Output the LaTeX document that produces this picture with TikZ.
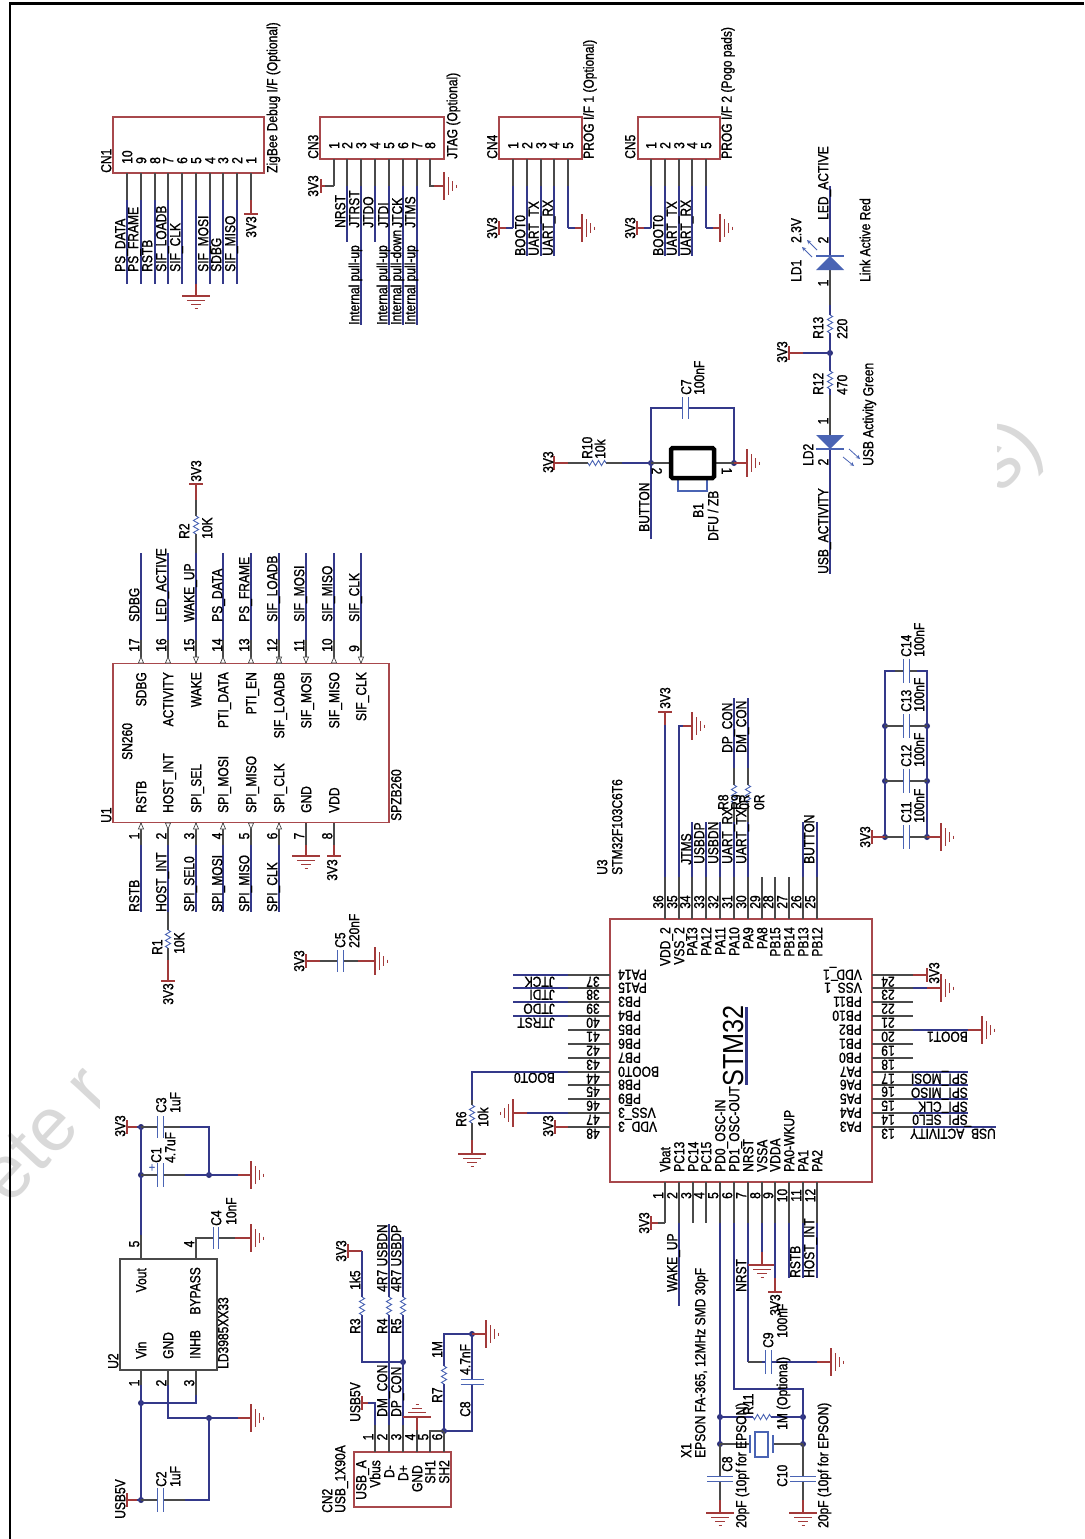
\documentclass[tikz,border=0pt]{standalone}
\usepackage{fontspec}
\setmainfont{Liberation Sans}[FakeStretch=0.83,FakeBold=1.1]
\newfontfamily\plainfont{Liberation Sans}[FakeStretch=0.87]
\newfontfamily\wmfont{Liberation Sans}
\definecolor{wireblue}{HTML}{34398A}
\definecolor{leadgrey}{HTML}{4A4A4A}
\definecolor{pwrred}{HTML}{A23A3A}
\definecolor{boxred}{HTML}{A8484C}
\definecolor{compblue}{HTML}{4A64B4}
\definecolor{dotblue}{HTML}{2B2F78}
\tikzset{
 wire/.style={draw=wireblue,line width=1.2pt},
 lead/.style={draw=leadgrey,line width=1.2pt},
 pwr/.style={draw=pwrred,line width=1.3pt},
 comp/.style={draw=compblue,line width=1.1pt},
 partbox/.style={draw=boxred,line width=1.2pt},
 jdot/.style={circle,fill=dotblue,inner sep=0pt,minimum size=6pt},
 txt/.style={inner sep=0pt,text height=10.4pt,text depth=0pt,font=\fontsize{14.5}{15}\selectfont},
 vtx/.style={txt,rotate=90},
 htx/.style={txt,rotate=180},
 rtx/.style={txt,rotate=-90},
 pinmark/.style={draw=leadgrey,fill=white,line width=.7pt},
}
\newcounter{tn}
\newcommand\Vb[3]{\stepcounter{tn}\node[vtx,anchor=west] (t\thetn) at (#1,#2) {#3};}
\newcommand\Vt[3]{\stepcounter{tn}\node[vtx,anchor=east] (t\thetn) at (#1,#2) {#3};}
\newcommand\Vc[3]{\stepcounter{tn}\node[vtx,anchor=center] (t\thetn) at (#1,#2) {#3};}
\newcommand\Hs[3]{\stepcounter{tn}\node[htx,anchor=west] (t\thetn) at (#1,#2) {#3};}
\newcommand\He[3]{\stepcounter{tn}\node[htx,anchor=east] (t\thetn) at (#1,#2) {#3};}
\newcommand\Hc[3]{\stepcounter{tn}\node[htx,anchor=center] (t\thetn) at (#1,#2) {#3};}
\newcommand\Rc[3]{\stepcounter{tn}\node[rtx,anchor=center] (t\thetn) at (#1,#2) {#3};}
% vertical pin: lead y1-y2, wire y2-y3
\newcommand\LV[4]{\draw[lead] (#1,#2) -- (#1,#3); \draw[wire] (#1,#3) -- (#1,#4);}
\newcommand\LH[4]{\draw[lead] (#2,#1) -- (#3,#1); \draw[wire] (#3,#1) -- (#4,#1);}
% resistors
\newcommand\RV[2]{\draw[white,line width=2pt] (#1,#2-9) -- (#1,#2+9);
 \draw[comp,line width=.9pt] (#1,#2-9) -- ++(2.6,1.5) -- ++(-5.2,3) -- ++(5.2,3) -- ++(-5.2,3) -- ++(5.2,3) -- ++(-5.2,3) -- ++(2.6,1.5);}
\newcommand\RH[2]{\draw[white,line width=2pt] (#1-9,#2) -- (#1+9,#2);
 \draw[comp,line width=.9pt] (#1-9,#2) -- ++(1.5,2.6) -- ++(3,-5.2) -- ++(3,5.2) -- ++(3,-5.2) -- ++(3,5.2) -- ++(3,-5.2) -- ++(1.5,2.6);}
% capacitors: \CV wire vertical, plates horizontal; \CH wire horizontal, plates vertical
\newcommand\CV[3]{\draw[white,line width=3pt] (#1,#2-2.7) -- (#1,#2+2.7);
 \draw[comp,line width=1.2pt] (#1-#3,#2-2.7) -- (#1+#3,#2-2.7) (#1-#3,#2+2.7) -- (#1+#3,#2+2.7);}
\newcommand\CH[3]{\draw[white,line width=3pt] (#1-2.7,#2) -- (#1+2.7,#2);
 \draw[comp,line width=1.2pt] (#1-2.7,#2-#3) -- (#1-2.7,#2+#3) (#1+2.7,#2-#3) -- (#1+2.7,#2+#3);}
% supply bars
\newcommand\BV[2]{\draw[pwr] (#1,#2-7) -- (#1,#2+7);}
\newcommand\BH[2]{\draw[pwr] (#1-7,#2) -- (#1+7,#2);}
% grounds
\newcommand\GR[2]{\draw[pwr] (#1,#2-14) -- (#1,#2+14) (#1+4.3,#2-9) -- (#1+4.3,#2+9) (#1+8.6,#2-5) -- (#1+8.6,#2+5) (#1+12.8,#2-1.5) -- (#1+12.8,#2+1.5);}
\newcommand\GL[2]{\draw[pwr] (#1,#2-14) -- (#1,#2+14) (#1-4.3,#2-9) -- (#1-4.3,#2+9) (#1-8.6,#2-5) -- (#1-8.6,#2+5) (#1-12.8,#2-1.5) -- (#1-12.8,#2+1.5);}
\newcommand\GD[2]{\draw[pwr] (#1-14,#2) -- (#1+14,#2) (#1-9,#2+4.3) -- (#1+9,#2+4.3) (#1-5,#2+8.6) -- (#1+5,#2+8.6) (#1-1.5,#2+12.8) -- (#1+1.5,#2+12.8);}
\newcommand\GU[2]{\draw[pwr] (#1-14,#2) -- (#1+14,#2) (#1-9,#2-4.3) -- (#1+9,#2-4.3) (#1-5,#2-8.6) -- (#1+5,#2-8.6) (#1-1.5,#2-12.8) -- (#1+1.5,#2-12.8);}
% pin mark triangle: x, base y, tip y
\newcommand\TR[3]{\draw[pinmark] (#1-2.6,#2) -- (#1,#3) -- (#1+2.6,#2) -- cycle;}
\begin{document}
\begin{tikzpicture}[x=1pt,y=-1pt]
\useasboundingbox (0,0) rectangle (1084,1539);
\fill[white] (0,0) rectangle (1084,1539);
% watermark fragments
\begin{scope}
\clip (0,1040) rectangle (99,1230);
\node[rotate=47,inner sep=0pt,text=black!15,font=\wmfont\fontsize{76}{80}\selectfont] (wm1) at (44,1134) {ete r};
\end{scope}
\begin{scope}
\clip (997,400) rectangle (1084,530);
\node[rotate=47,inner sep=0pt,text=black!15,font=\wmfont\fontsize{76}{80}\selectfont] (wm2) at (1009,458) {s)};
\end{scope}
% frame
\draw[black,line width=2.2pt] (9.8,1539) -- (9.8,3.5) -- (1084,3.5);

% ---------- junction dots
\foreach \n/\x/\y in {u2a/141/1127,u2b/141/1175,u2c/209/1175,u2d/141/1403,u2e/209/1418,u2f/141/1500,
 usbA/403/1362,usbB/444/1431,usbC/472/1334,xA/720/1417,xB/803/1417,xC/720/1444,xD/803/1444,
 btnA/651/463,btnB/734/463,ledA/830/353,
 deA/885/726,deB/927/726,deC/885/781,deD/927/781,deE/885/837,deF/927/837}
 {\node[jdot] (\n) at (\x,\y) {};}

% ---------- CN1
\draw[partbox] (113,117) rectangle (264,173);
\foreach \x in {127,141,155,168,182,210,223,237} {\LV{\x}{173}{200}{284}}
\LV{196}{173}{200}{284} \draw[pwr] (196,284) -- (196,296); \GD{196}{296}
\draw[lead] (251,173) -- (251,200); \draw[pwr] (251,200) -- (251,214); \BH{251}{214}
\foreach \x/\n in {127/10,141/9,155/8,168/7,182/6,196/5,210/4,223/3,237/2,251/1} {\Vb{\x}{164}{\n}}
\foreach \x/\s in {120/PS\_DATA,133/PS\_FRAME,147/RSTB,161/SIF\_LOADB,175/SIF\_CLK,203/SIF\_MOSI,216/SDBG,230/SIF\_MISO} {\Vb{\x}{272}{\s}}
\Vc{251}{227}{3V3}
\Vb{106}{173}{CN1}
\Vb{272}{173}{ZigBee Debug I/F (Optional)}

% ---------- CN3
\draw[partbox] (320,117) rectangle (444,159);
\draw[lead] (334,159) -- (334,186); \draw[lead] (334,186) -- (325,186); \draw[pwr] (325,186) -- (321,186); \BV{321}{186}
\LV{347}{159}{186}{242} \LV{361}{159}{186}{325} \LV{375}{159}{186}{242}
\LV{389}{159}{186}{325} \LV{403}{159}{186}{325} \LV{417}{159}{186}{325}
\draw[lead] (430,159) -- (430,186) -- (434,186); \draw[pwr] (434,186) -- (444,186); \GR{444}{186}
\foreach \x/\n in {334/1,347/2,361/3,375/4,389/5,403/6,417/7,430/8} {\Vb{\x}{149}{\n}}
\Vc{313}{186}{3V3}
\foreach \x/\s in {340/NRST,354/JTRST,368/JTDO,383/JTDI,397/JTCK,410/JTMS} {\Vb{\x}{228}{\s}}
\foreach \x/\s in {354/Internal pull-up,382/Internal pull-up,396/Internal pull-down,410/Internal pull-up} {\Vb{\x}{325}{\s}}
\Vb{313}{159}{CN3}
\Vb{452}{159}{JTAG (Optional)}

% ---------- CN4 / CN5
\draw[partbox] (499,117) rectangle (582,159);
\draw[partbox] (638,117) rectangle (720,159);
\foreach \o/\cn/\ttl in {0/CN4/{PROG I/F 1 (Optional)},138/CN5/{PROG I/F 2 (Pogo pads)}} {
 \begin{scope}[xshift=\o pt]
 \LV{513}{159}{186}{228} \draw[wire] (513,228) -- (506,228); \draw[pwr] (506,228) -- (499,228); \BV{499}{228}
 \LV{527}{159}{186}{256} \LV{541}{159}{186}{256} \LV{554}{159}{186}{256}
 \LV{568}{159}{186}{228} \draw[wire] (568,228) -- (575,228); \draw[pwr] (575,228) -- (582,228); \GR{582}{228}
 \foreach \x/\n in {513/1,527/2,541/3,554/4,568/5} {\Vb{\x}{149}{\n}}
 \Vc{492}{228}{3V3}
 \Vb{520}{256}{BOOT0} \Vb{533.5}{256}{UART\_TX} \Vb{547.5}{256}{UART\_RX}
 \Vb{492}{159}{\cn}
 \Vb{588.5}{159}{\ttl}
 \end{scope}}

% ---------- LEDs
\draw[wire] (830,186) -- (830,256);
\draw[lead] (830,270) -- (830,305); \draw[wire] (830,305) -- (830,353) -- (830,395);
\draw[lead] (830,395) -- (830,435);
\draw[wire] (830,449) -- (830,574);
\draw[pwr] (789,353) -- (803,353); \draw[wire] (803,353) -- (ledA.center); \BV{789}{353}
\RV{830}{324} \RV{830}{380}
\fill[compblue] (830,256) -- (844,270) -- (816,270) -- cycle;
\draw[comp,line width=1.1pt] (816,256) -- (844,256);
\fill[compblue] (830,449) -- (844,435) -- (816,435) -- cycle;
\draw[comp,line width=1.1pt] (816,449) -- (844,449);
\draw[comp,line width=.8pt,-stealth] (817,250) -- (807,240);
\draw[comp,line width=.8pt,-stealth] (812,257) -- (802,247);
\draw[comp,line width=.8pt,-stealth] (849,449) -- (860,459);
\draw[comp,line width=.8pt,-stealth] (843,457) -- (854,466);
\Vb{823}{220}{LED\_ACTIVE} \Vc{823}{240}{2} \Vc{823}{283}{1}
\Vb{796}{282}{LD1} \Vb{796}{243}{2.3V} \Vb{865}{282}{Link Active Red}
\Vb{818}{339}{R13} \Vb{842}{339}{220} \Vc{782}{352}{3V3}
\Vb{818}{395}{R12} \Vb{842}{395}{470}
\Vc{823}{421}{1} \Vc{823}{462}{2} \Vb{808}{466}{LD2}
\Vb{868}{466}{USB Activity Green}
\Vb{823}{574}{USB\_ACTIVITY}

% ---------- Button
\draw[pwr] (554,463) -- (568,463); \BV{554}{463}
\draw[lead] (568,463) -- (622,463); \draw[wire] (622,463) -- (btnA.center);
\RH{597}{463}
\draw[wire] (651,539) -- (btnA.center) -- (651,408) -- (734,408) -- (btnB.center);
\draw[lead] (btnA.center) -- (669,463) (716,463) -- (btnB.center);
\draw[pwr] (btnB.center) -- (747,463); \GR{747}{463}
\CH{685.5}{408}{11}
\draw[comp] (678,477) -- (678,491) -- (707,491) -- (707,477);
\draw[black,line width=4.5pt,rounded corners=1.5pt] (671,448) rectangle (714,478);
\Rc{657}{471}{2} \Rc{727}{471}{1}
\Vb{548}{473}{3V3} \Vb{587}{459}{R10} \Vb{600}{459}{10k}
\Vb{686}{395}{C7} \Vb{699}{395}{100nF}
\Vb{644}{532}{BUTTON} \Vb{698}{518}{B1} \Vb{713}{541}{DFU / ZB}

% ---------- U1
\draw[partbox] (113,663.5) rectangle (389,822.5);
\foreach \x/\n/\t/\s/\tx in {141/17/SDBG/SDBG/134,168/16/ACTIVITY/LED\_ACTIVE/161,196/15/WAKE/WAKE\_UP/189,223/14/PTI\_DATA/PS\_DATA/217,251/13/PTI\_EN/PS\_FRAME/244,279/12/SIF\_LOADB/SIF\_LOADB/272,306/11/SIF\_MOSI/SIF\_MOSI/299,334/10/SIF\_MISO/SIF\_MISO/327,361/9/SIF\_CLK/SIF\_CLK/354}
 {\LV{\x}{663}{640}{553}
  \Vb{\tx}{652}{\n} \Vt{\x}{672}{\t} \Vb{\tx}{622}{\s}}
\draw[lead] (196,553) -- (196,525); \draw[pwr] (196,502) -- (196,484); \draw[lead] (196,525) -- (196,500); \BH{196}{484}
\RV{196}{525}
\foreach \x in {141,223} {\LV{\x}{823}{845}{912}}
\foreach \x in {196,279} {\LV{\x}{823}{845}{912}}
\LV{251}{823}{845}{912}
\LV{168}{823}{845}{912} \draw[lead] (168,912) -- (168,960); \draw[pwr] (168,960) -- (168,981); \BH{168}{981}
\RV{168}{939}
\foreach \x/\b/\e in {141/663/657,168/663/657,223/663/657,251/663/657,334/663/657,141/829/823,196/829/823,223/829/823,279/829/823,196/657/663,306/657/663,361/657/663,168/823/829,251/823/829}
 {\TR{\x}{\b}{\e}}
\TR{279}{663}{657}\TR{279}{657}{663}\TR{279}{663}{657}
\draw[lead] (306,823) -- (306,845); \draw[pwr] (306,845) -- (306,856); \GD{306}{856}
\draw[lead] (334,823) -- (334,845); \draw[pwr] (334,845) -- (334,856); \BH{334}{856}
\foreach \x/\n/\s/\ix in {134/1/RSTB/141,161/2/HOST\_INT/168,189/3/SPI\_SEL/196,217/4/SPI\_MOSI/223,244/5/SPI\_MISO/251,272/6/SPI\_CLK/279,299/7/GND/306,327/8/VDD/334}
 {\Vc{\x}{836}{\n} \Vb{\ix}{813}{\s}}
\foreach \x/\s in {134/RSTB,161/HOST\_INT,189/SPI\_SEL0,217/SPI\_MOSI,244/SPI\_MISO,272/SPI\_CLK} {\Vb{\x}{912}{\s}}
\Vb{127}{760}{SN260} \Vb{396}{821}{SPZB260} \Vb{106}{823}{U1}
\Vc{196}{471}{3V3} \Vb{184}{539}{R2} \Vb{207}{539}{10K}
\Vb{157}{955}{R1} \Vb{179}{954}{10K} \Vc{168}{994}{3V3}
\Vc{332}{870}{3V3}
% C5
\draw[pwr] (306,961) -- (320,961); \draw[lead] (320,961) -- (358,961); \draw[pwr] (358,961) -- (375,961);
\BV{306}{961} \GR{375}{961} \CH{340.5}{961}{11}
\Vc{299}{961}{3V3} \Vb{340}{948}{C5} \Vb{354}{948}{220nF}

% ---------- U2
\draw[draw=leadgrey,line width=1.6pt] (120,1259) rectangle (217,1370);
\draw[lead] (141,1259) -- (141,1235); \draw[wire] (141,1235) -- (u2b.center) -- (u2a.center);
\draw[pwr] (127,1127) -- (137,1127); \draw[wire] (137,1127) -- (u2a.center); \BV{127}{1127}
\draw[lead] (u2a.center) -- (180,1127); \draw[wire] (180,1127) -- (209,1127) -- (u2c.center);
\CH{160.5}{1127}{11}
\draw[lead] (u2b.center) -- (185,1175); \draw[wire] (185,1175) -- (238,1175); \draw[pwr] (238,1175) -- (251,1175); \GR{251}{1175}
\CH{160.5}{1175}{12}
\draw[lead] (196,1259) -- (196,1238) -- (205,1238); \draw[lead] (225,1238) -- (235,1238); \draw[pwr] (235,1238) -- (251,1238); \GR{251}{1238}
\draw[lead] (196,1238) -- (235,1238); \CH{216}{1238}{11}
\draw[lead] (141,1370) -- (141,1385); \draw[wire] (141,1385) -- (u2d.center) -- (u2f.center);
\draw[lead] (196,1370) -- (196,1395); \draw[wire] (196,1395) -- (196,1403) -- (u2d.center);
\draw[lead] (168,1370) -- (168,1385); \draw[wire] (168,1385) -- (168,1418) -- (u2e.center) -- (238,1418); \draw[pwr] (238,1418) -- (251,1418); \GR{251}{1418}
\draw[wire] (u2e.center) -- (209,1500) -- (185,1500); \draw[lead] (185,1500) -- (u2f.center);
\draw[pwr] (127,1500) -- (137,1500); \draw[wire] (137,1500) -- (u2f.center); \BV{127}{1500}
\CH{160.5}{1500}{12}
\node[inner sep=0pt,text=compblue,font=\fontsize{13}{13}\selectfont] (plusC1) at (152,1168) {+};
\Vc{134}{1244}{5} \Vc{189}{1244}{4} \Vc{134}{1383}{1} \Vc{161}{1383}{2} \Vc{189}{1383}{3}
\Vt{141}{1268}{Vout} \Vt{195}{1267}{BYPASS}
\Vb{141}{1359}{Vin} \Vb{168}{1359}{GND} \Vb{195}{1359}{INHB}
\Vb{223}{1369}{LD3985XX33} \Vb{113}{1369}{U2}
\Vc{120}{1126}{3V3} \Vb{161}{1113}{C3} \Vb{175}{1113}{1uF}
\Vb{156}{1163}{C1} \Vb{170}{1163}{4.7uF}
\Vb{216}{1226}{C4} \Vb{231}{1225}{10nF}
\Vc{120}{1499}{USB5V} \Vb{161}{1487}{C2} \Vb{175}{1487}{1uF}

% ---------- CN2
\draw[partbox] (354,1452) rectangle (451,1507);
\draw[lead] (375,1452) -- (375,1425); \draw[wire] (375,1425) -- (375,1403) -- (368,1403); \draw[pwr] (368,1403) -- (362,1403); \BV{362}{1403}
\LV{389}{1452}{1425}{1224}
\draw[lead] (403,1452) -- (403,1425); \draw[wire] (403,1425) -- (usbA.center) -- (403,1237);
\draw[pwr] (348,1251) -- (362,1251); \BV{348}{1251}
\draw[wire] (362,1251) -- (362,1362) -- (usbA.center);
\RV{362}{1306} \RV{389}{1306} \RV{403}{1306}
\draw[lead] (417,1452) -- (417,1430); \draw[pwr] (417,1430) -- (417,1417); \GU{417}{1417}
\draw[lead] (430,1452) -- (430,1431) -- (usbB.center);
\draw[lead] (444,1452) -- (usbB.center);
\draw[wire] (usbB.center) -- (444,1334) -- (usbC.center);
\draw[wire] (usbB.center) -- (472,1431) -- (usbC.center);
\draw[pwr] (usbC.center) -- (486,1334); \GR{486}{1334}
\RV{444}{1375} \CV{472}{1382}{11.5}
\foreach \x/\n in {368/1,382/2,396/3,410/4,423/5,437/6} {\Vc{\x}{1437}{\n}}
\Vt{361}{1460}{USB\_A} \Vt{375}{1460}{Vbus} \Vt{389}{1465}{D-} \Vt{403}{1465}{D+}
\Vt{417}{1465}{GND} \Vt{430}{1460}{SH1} \Vt{444}{1460}{SH2}
\Vb{327}{1513}{CN2} \Vb{340}{1513}{USB\_1X90A}
\Vc{341}{1251}{3V3} \Vb{355}{1334}{R3} \Vb{355}{1290}{1k5}
\Vb{382}{1334}{R4} \Vb{396}{1334}{R5}
\Vb{382}{1292}{4R7 USBDN} \Vb{396}{1292}{4R7 USBDP}
\Vb{382}{1417}{DM\_CON} \Vb{396}{1417}{DP\_CON}
\Vc{355}{1402}{USB5V}
\Vb{437}{1403}{R7} \Vb{437}{1358}{1M} \Vb{465}{1417}{C8} \Vb{465}{1375}{4.7nF}

% ---------- U3 box and pins
\draw[partbox] (610,919) rectangle (872,1182);
% top pins
\foreach \x/\n/\s in {665/36/VDD\_2,679/35/VSS\_2,692/34/PA13,706/33/PA12,720/32/PA11,734/31/PA10,748/30/PA9,762/29/PA8,775/28/PB15,789/27/PB14,803/26/PB13,817/25/PB12}
 {\draw[lead] (\x,919) -- (\x,877); \Vc{\x-7}{902}{\n} \Vt{\x}{927}{\s}}
\draw[wire] (665,877) -- (665,725); \draw[pwr] (665,725) -- (665,712); \BH{665}{712}
\draw[wire] (679,877) -- (679,726) -- (683,726); \draw[pwr] (683,726) -- (692,726); \GR{692}{726}
\foreach \x in {692,706,720,803,817} {\draw[wire] (\x,877) -- (\x,822);}
\draw[lead] (734,877) -- (734,768); \draw[wire] (734,768) -- (734,698); \draw[wire] (734,877) -- (734,822);
\draw[lead] (748,877) -- (748,768); \draw[wire] (748,768) -- (748,698); \draw[wire] (748,877) -- (748,822);
\RV{734}{794} \RV{748}{794}
\Vc{665}{698}{3V3}
\Vb{686}{865}{JTMS} \Vb{699}{864}{USBDP} \Vb{713}{864}{USBDN} \Vb{727}{864}{UART\_RX} \Vb{741}{864}{UART\_TX} \Vb{809}{864}{BUTTON}
\Vb{727}{753}{DP\_CON} \Vb{741}{753}{DM\_CON}
\Vb{723}{810}{R8} \Vb{736}{810}{R9} \Vb{744}{810}{0R} \Vb{759}{810}{0R}
\Vb{602}{875}{U3} \Vb{617}{875}{STM32F103C6T6}
% left pins
\foreach \y/\n/\s in {975/37/PA14,988/38/PA15,1002/39/PB3,1016/40/PB4,1030/41/PB5,1044/42/PB6,1058/43/PB7,1072/44/BOOT0,1085/45/PB8,1099/46/PB9,1113/47/VSS\_3,1127/48/VDD\_3}
 {\draw[lead] (610,\y) -- (568,\y); \Hc{593}{\y+7}{\n} \He{618}{\y}{\s}}
\foreach \y in {975,988,1002,1016} {\draw[wire] (568,\y) -- (513,\y);}
\Hs{555}{982}{JTCK} \Hs{555}{995}{JTDI} \Hs{555}{1009}{JTDO} \Hs{555}{1023}{JTRST} \Hs{555}{1078}{BOOT0}
\draw[wire] (568,1072) -- (472,1072) -- (472,1100); \draw[lead] (472,1100) -- (472,1140); \draw[pwr] (472,1140) -- (472,1154); \GD{472}{1154}
\RV{472}{1114}
\Vb{461}{1127}{R6} \Vb{483}{1127}{10k}
\draw[wire] (568,1113) -- (527,1113); \draw[pwr] (527,1113) -- (513,1113); \GL{513}{1113}
\draw[pwr] (568,1127) -- (555,1127); \BV{555}{1127} \Vc{548}{1126}{3V3}
% right pins
\foreach \y/\n/\s in {975/24/VDD\_1,988/23/VSS\_1,1002/22/PB11,1016/21/PB10,1030/20/PB2,1044/19/PB1,1058/18/PB0,1072/17/PA7,1085/16/PA6,1099/15/PA5,1113/14/PA4,1127/13/PA3}
 {\draw[lead] (872,\y) -- (913,\y); \Hc{888}{\y+7}{\n} \Hs{862}{\y}{\s}}
\draw[pwr] (913,975) -- (927,975); \BV{927}{975} \Vc{934}{973}{3V3}
\draw[wire] (913,988) -- (927,988); \draw[pwr] (927,988) -- (941,988); \GR{941}{988}
\draw[wire] (913,1030) -- (968,1030); \draw[pwr] (968,1030) -- (982,1030); \GR{982}{1030}
\foreach \y in {1072,1085,1099,1113} {\draw[wire] (913,\y) -- (968,\y);}
\draw[wire] (913,1127) -- (996,1127);
\Hs{968}{1037}{BOOT1} \Hs{968}{1079}{SPI\_MOSI} \Hs{968}{1093}{SPI\_MISO} \Hs{968}{1107}{SPI\_CLK} \Hs{968}{1120}{SPI\_SEL0} \Hs{996}{1134}{USB\_ACTIVITY}
% STM32 title
\node[vtx,anchor=center,text height=20pt,font=\plainfont\fontsize{29}{30}\selectfont] (stmname) at (733,1046) {STM32};
\draw[wireblue,line width=3pt] (746,1007) -- (746,1085);
% bottom pins
\foreach \x/\n/\s in {665/1/Vbat,679/2/PC13,693/3/PC14,706/4/PC15,720/5/PD0\_OSC-IN,734/6/PD1\_OSC-OUT,748/7/NRST,762/8/VSSA,775/9/VDDA,789/10/PA0-WKUP,803/11/PA1,817/12/PA2}
 {\draw[lead] (\x,1182) -- (\x,1223); \Vc{\x-7}{1195.5}{\n} \Vb{\x}{1172}{\s}}
\draw[lead] (665,1223) -- (658,1223); \draw[pwr] (658,1223) -- (651,1223); \BV{651}{1223} \Vc{644}{1223}{3V3}
\draw[wire] (679,1223) -- (679,1306); \Vb{672}{1292}{WAKE\_UP}
\draw[wire] (720,1223) -- (xA.center) -- (xC.center); \draw[lead] (xC.center) -- (720,1500); \draw[pwr] (720,1500) -- (720,1513); \GD{720}{1513}
\CV{720}{1479}{13}
\draw[wire] (734,1223) -- (734,1389) -- (803,1389) -- (xB.center) -- (xD.center); \draw[lead] (xD.center) -- (803,1500); \draw[pwr] (803,1500) -- (803,1513); \GD{803}{1513}
\CV{803}{1479}{13}
\draw[wire] (748,1223) -- (748,1362); \draw[lead] (748,1362) -- (762,1362); \draw[wire] (762,1362) -- (817,1362); \draw[pwr] (817,1362) -- (831,1362); \GR{831}{1362}
\CH{768.5}{1362}{12}
\draw[wire] (762,1223) -- (762,1252); \draw[pwr] (762,1252) -- (762,1265); \GD{762}{1265}
\draw[wire] (775,1223) -- (775,1278); \draw[pwr] (775,1278) -- (775,1292); \BH{775}{1292}
\foreach \x in {789,803,817} {\draw[wire] (\x,1223) -- (\x,1278);}
\Vc{775}{1305}{3V3} \Vb{782}{1338}{100nF} \Vb{768}{1348}{C9}
\Vb{741}{1292}{NRST} \Vb{795}{1278}{RSTB} \Vb{809}{1278}{HOST\_INT}
% crystal and R11
\draw[wire] (xA.center) -- (xB.center); \RH{762}{1417}
\draw[lead] (xC.center) -- (750,1444) (773,1444) -- (xD.center);
\draw[comp,line width=1.1pt] (750,1435) -- (750,1453) (773,1435) -- (773,1453);
\draw[comp,line width=1.1pt,fill=white] (755,1432) rectangle (768,1457);
\Vb{686}{1458}{X1} \Vb{700}{1458}{EPSON FA-365, 12MHz SMD 30pF}
\Vb{748}{1415}{R11} \Vb{782}{1430}{1M (Optional)}
\Vb{727}{1472}{C8} \Vb{741}{1528}{20pF (10pf for EPSON)}
\Vb{782}{1487}{C10} \Vb{823}{1528}{20pF (10pf for EPSON)}

% ---------- decoupling
\draw[wire] (deE.center) -- (885,671) -- (895,671);
\draw[wire] (deF.center) -- (927,671) -- (917,671);
\foreach \a/\b/\y in {deA/deB/726,deC/deD/781,deE/deF/837} {\draw[lead] (\a.center) -- (\b.center);}
\draw[lead] (895,671) -- (917,671);
\foreach \y in {671,726,781,837} {\CH{906.5}{\y}{12}}
\draw[pwr] (872,837) -- (deE.center); \BV{872}{837} \Vc{865}{837}{3V3}
\draw[pwr] (deF.center) -- (941,837); \GR{941}{837}
\foreach \y/\n in {823/C11,767/C12,712/C13,657/C14} {\Vb{906}{\y}{\n} \Vb{919}{\y}{100nF}}
\end{tikzpicture}
\end{document}
